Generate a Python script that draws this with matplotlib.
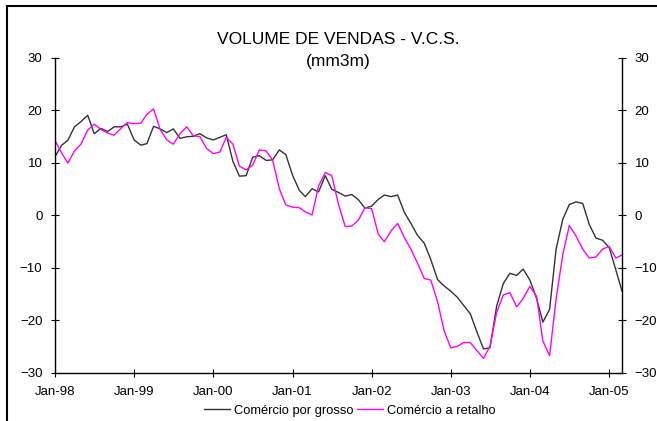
import pandas as pd
import matplotlib.pyplot as plt
import matplotlib.dates as mdates
from matplotlib.lines import Line2D

plt.rcParams['font.family'] = ['Liberation Sans', 'DejaVu Sans']

# dados mensais (mm3m), Jan-98 a Mar-05
meses = pd.date_range('1998-01-01', periods=87, freq='MS')

grosso = [11.1, 13.3, 14.2, 16.8, 17.8, 19.0, 15.5, 16.5, 15.9, 16.8, 16.8, 17.3,
          14.3, 13.3, 13.6, 16.9, 16.4, 15.7, 16.4, 14.6, 14.9, 15.0, 15.5, 14.7,
          14.3, 14.8, 15.3, 10.2, 7.4, 7.5, 11.0, 11.3, 10.4, 10.5, 12.4, 11.5,
          7.6, 4.7, 3.5, 5.0, 4.4, 7.5, 4.9, 4.3, 3.6, 3.9, 2.9, 1.3,
          1.7, 3.0, 3.8, 3.5, 3.8, 0.5, -1.6, -3.9, -5.4, -8.5, -12.3, -13.5,
          -14.5, -15.7, -17.2, -18.8, -22.2, -25.5, -25.3, -17.3, -13.0, -11.1, -11.5, -10.3,
          -12.4, -15.9, -20.4, -18.0, -6.5, -0.8, 2.0, 2.5, 2.2, -1.8, -4.4, -4.8,
          -6.2, -10.5, -14.5]

retalho = [14.2, 11.8, 9.9, 12.2, 13.5, 16.2, 17.3, 16.3, 15.6, 15.2, 16.5, 17.6,
           17.4, 17.5, 19.2, 20.2, 16.3, 14.3, 13.5, 15.5, 16.8, 15.1, 14.9, 12.7,
           11.7, 12.0, 14.8, 13.5, 9.3, 8.6, 9.5, 12.4, 12.2, 10.5, 5.0, 1.9,
           1.5, 1.4, 0.6, 0.0, 5.5, 8.1, 7.5, 2.0, -2.2, -2.1, -1.0, 1.4,
           1.2, -3.7, -5.1, -3.0, -1.6, -4.3, -6.5, -9.2, -12.1, -12.4, -16.5, -22.0,
           -25.3, -25.0, -24.3, -24.3, -25.8, -27.3, -25.0, -18.5, -15.2, -14.8, -17.5, -15.9,
           -13.6, -15.5, -24.0, -26.8, -16.0, -7.5, -2.0, -4.0, -6.5, -8.2, -8.0, -6.5,
           -6.0, -8.2, -7.6]

anos = pd.date_range('1998-01-01', '2005-01-01', freq='YS')

fig = plt.figure(figsize=(6.57, 4.21), dpi=100)
ax = fig.add_axes([0.0837, 0.1152, 0.863, 0.7482])

ax.plot(meses, grosso, color='#333333', lw=1.0, label='Comércio por grosso')
ax.plot(meses, retalho, color='#ff00ff', lw=1.0, label='Comércio a retalho')

ax.set_xlim(meses[0], meses[-1])
ax.set_ylim(-30, 30)
ax.set_yticks(range(-30, 31, 10))
ax.set_xticks(anos)
ax.xaxis.set_major_formatter(mdates.DateFormatter('%b-%y'))

ax.spines['top'].set_visible(False)
for s in ['left', 'right', 'bottom']:
    ax.spines[s].set_color('black')
    ax.spines[s].set_linewidth(1.0)

ax.tick_params(axis='both', direction='inout', length=6, width=0.8, labelsize=9.5)
ax.tick_params(axis='y', right=True, labelright=True, pad=6)
ax.tick_params(axis='x', pad=7)

# titulo
fig.text(0.5145, 0.907, 'VOLUME DE VENDAS - V.C.S.', ha='center', va='center', fontsize=12.5)
fig.text(0.5145, 0.853, '(mm3m)', ha='center', va='center', fontsize=12.5)

fig.legend(loc='center', bbox_to_anchor=(0.532, 0.024), ncol=2, frameon=False,
           fontsize=9.3, handlelength=2.0, handletextpad=0.3, columnspacing=0.3)

# moldura
fig.add_artist(Line2D([0.0107, 1.0], [0.986, 0.986], color='black', lw=1.5))
fig.add_artist(Line2D([0.0107, 0.0107], [0.0, 0.986], color='black', lw=1.5))

fig.savefig('out.png', dpi=100)
